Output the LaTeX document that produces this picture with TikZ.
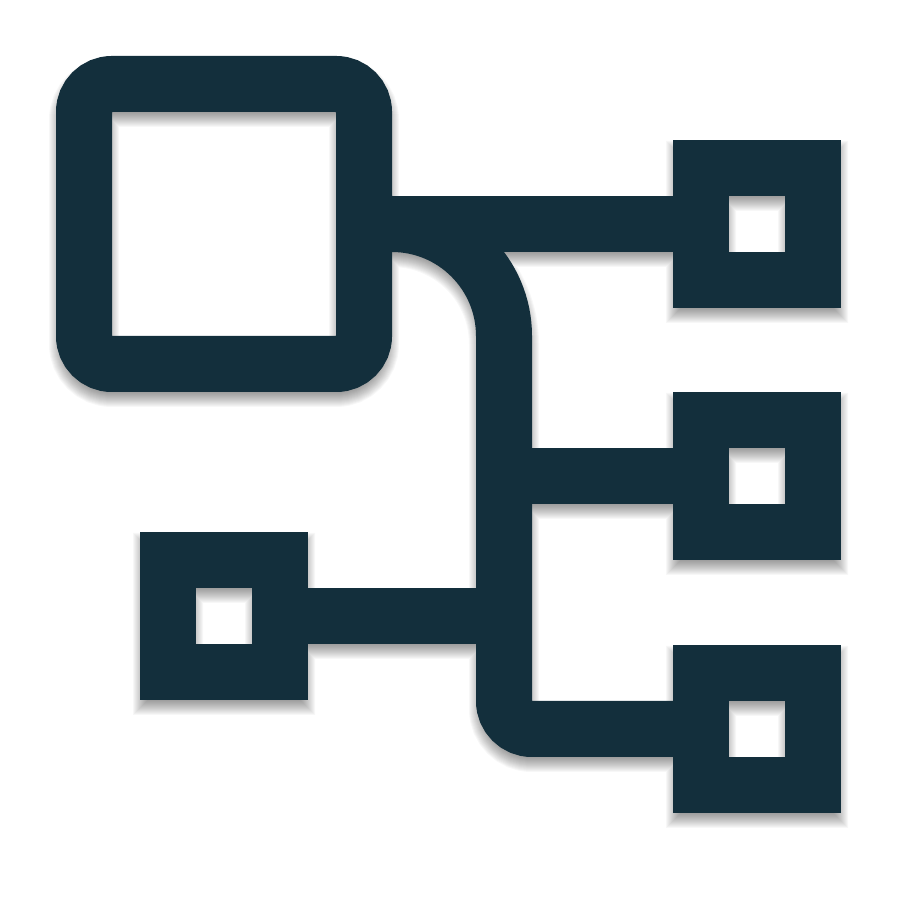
\documentclass[tikz,border=0pt]{standalone}
\usepackage{xcolor}
\usetikzlibrary{backgrounds}
\definecolor{inkblue}{RGB}{19,47,60}
\tikzset{
  hubbox/.style={draw=inkblue, line width=56pt, rounded corners=28pt, inner sep=0pt,
    outer sep=0pt, minimum size=280pt},
  leafbox/.style={draw=inkblue, line width=56pt, inner sep=0pt,
    outer sep=0pt, minimum size=112pt},
  link/.style={line width=56pt, draw=inkblue}
}
% the connectors, drawn once for the shadow and once on top
\newcommand{\linkpaths}{
  \draw[link] (hub.east) -- (leafa.west);
  \draw[link] (hub.east) -- ++(28pt,0) arc (90:0:112pt) coordinate (trunk)
    [rounded corners=28pt] |- (leafc.west);
  \draw[link] (trunk |- leafb.west) -- (leafb.west);
  \draw[link] (leafd.east) -- (trunk |- leafd.east);
}
\begin{document}
\begin{tikzpicture}[x=1pt, y=1pt]
  \useasboundingbox (0,0) rectangle (897,897);
  \node[hubbox] (hub) at (224,673) {};
  \node[leafbox] (leafa) at (757,673) {};
  \node[leafbox] (leafb) at (757,421) {};
  \node[leafbox] (leafc) at (757,168) {};
  \node[leafbox] (leafd) at (224,281) {};

  \linkpaths

  % soft shadow below everything
  \begin{scope}[on background layer]
    \foreach \w in {70,68,...,40} {
      \begin{scope}[transform canvas={yshift=-8pt}, transparency group, opacity=.03,
        link/.style={line width=\w pt, draw=black}]
        \draw[link, rounded corners=28pt] (hub.south west) rectangle (hub.north east);
        \draw[link] (leafa.south west) rectangle (leafa.north east);
        \draw[link] (leafb.south west) rectangle (leafb.north east);
        \draw[link] (leafc.south west) rectangle (leafc.north east);
        \draw[link] (leafd.south west) rectangle (leafd.north east);
        \linkpaths
      \end{scope}
    }
  \end{scope}
\end{tikzpicture}
\end{document}
